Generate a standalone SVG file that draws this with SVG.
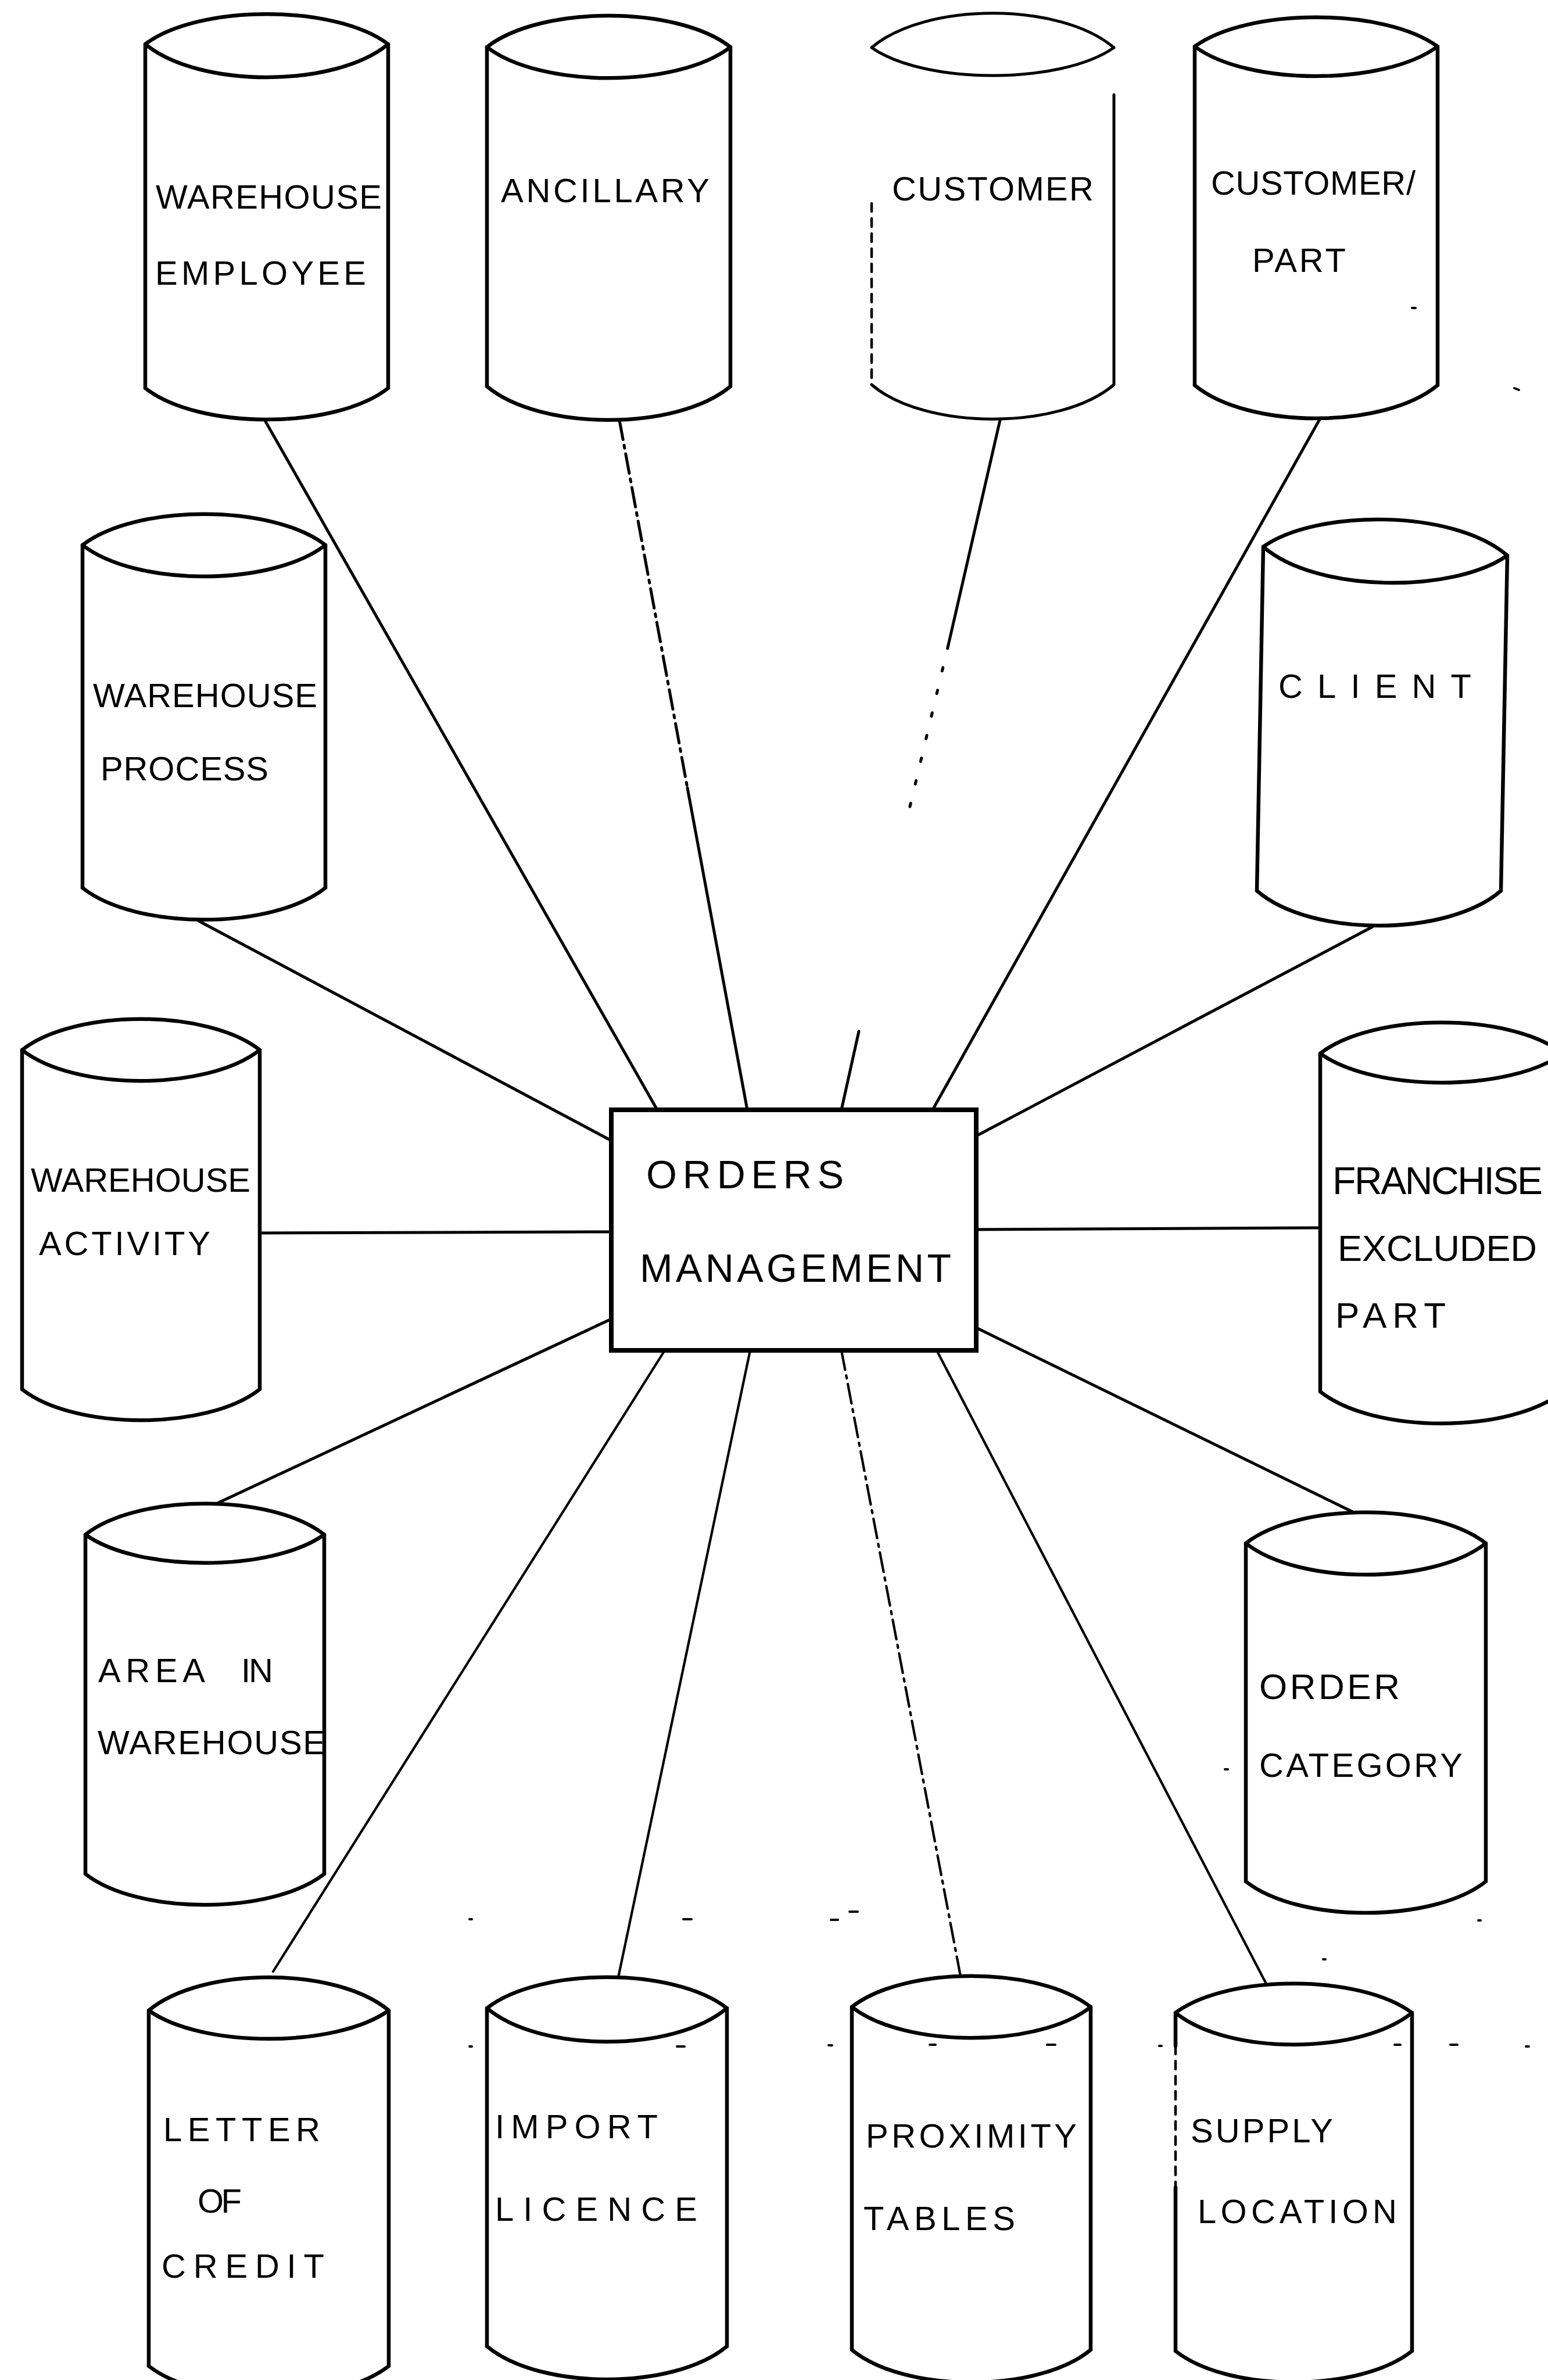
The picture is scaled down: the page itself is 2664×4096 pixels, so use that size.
<svg xmlns="http://www.w3.org/2000/svg" width="2664" height="4096" viewBox="0 0 2664 4096">
  <style>
    .cyl path { fill: none; stroke: #000; stroke-width: 6.5; stroke-linecap: round; stroke-linejoin: round; }
    .box { fill: #fff; stroke: #000; stroke-width: 8; }
    .lbl { font-family: "Liberation Sans", Arial, sans-serif; font-size: 58px; fill: #000; }
    .big { font-size: 68px; }
    #connectors line { stroke: #000; stroke-width: 5; stroke-linecap: round; }
    #connectors .thin { stroke-width: 4.2; }
    #connectors .dash { stroke-dasharray: 34 10 5 10; }
    #connectors .dots { stroke-dasharray: 6 34; }
    .dotted { stroke-dasharray: 14 12; }
    #specks line { stroke: #000; stroke-width: 4; stroke-linecap: round; }
  </style>

  <rect x="0" y="0" width="2664" height="4096" fill="#fff"/>

  <!-- links from the central box out to each data store -->
  <g id="connectors">
    <line x1="455" y1="722" x2="1131" y2="1910"/>
    <line class="dash" x1="1066" y1="723" x2="1183" y2="1356"/>
    <line x1="1183" y1="1356" x2="1286" y2="1910"/>
    <line x1="1721" y1="723" x2="1632" y2="1110"/>
    <line class="dots" x1="1632" y1="1110" x2="1560" y2="1413"/>
    <line x1="1478" y1="1775" x2="1448" y2="1910"/>
    <line x1="2272" y1="720" x2="1605" y2="1910"/>
    <line x1="342" y1="1585" x2="1052" y2="1963"/>
    <line x1="2362" y1="1595" x2="1680" y2="1955"/>
    <line x1="449" y1="2122" x2="1052" y2="2120"/>
    <line x1="1680" y1="2116" x2="2272" y2="2113"/>
    <line x1="372" y1="2588" x2="1052" y2="2270"/>
    <line x1="1680" y1="2285" x2="2330" y2="2603"/>
    <line class="thin" x1="1144" y1="2324" x2="470" y2="3393"/>
    <line class="thin" x1="1291" y1="2324" x2="1064" y2="3403"/>
    <line class="thin dash" x1="1448" y1="2324" x2="1653" y2="3401"/>
    <line class="thin" x1="1612" y1="2324" x2="2179" y2="3414"/>
  </g>

  <g id="n-orders-management">
    <rect class="box" x="1052" y="1910" width="628" height="414"/>
    <text class="lbl big" x="1112" y="2045" textLength="340">ORDERS</text>
    <text class="lbl big" x="1101" y="2206" textLength="536">MANAGEMENT</text>
  </g>

  <g id="n-warehouse-employee" class="cyl">
    <path d="M250 76 C342 7 576 7 668 76 M250 76 C342 152 576 152 668 76 M250 76 V668 M668 76 V668 M250 668 C342 740 576 740 668 668"/>
    <text class="lbl" x="268" y="359" textLength="389">WAREHOUSE</text>
    <text class="lbl" x="267" y="490" textLength="363">EMPLOYEE</text>
  </g>

  <g id="n-ancillary" class="cyl">
    <path d="M838 81 C930 9 1165 9 1257 81 M838 81 C930 152 1165 152 1257 81 M838 81 V665 M1257 81 V665 M838 665 C930 742 1165 742 1257 665"/>
    <text class="lbl" x="862" y="348" textLength="359">ANCILLARY</text>
  </g>

  <g id="n-customer" class="cyl">
    <path style="stroke-width:5" d="M1500 82 C1592 3 1825 3 1917 82 M1500 82 C1592 146 1825 146 1917 82 M1917 163 V662 M1500 662 C1592 741 1825 741 1917 662"/>
    <path class="dotted" style="stroke-width:4.5" d="M1500 350 V662"/>
    <text class="lbl" x="1535" y="345" textLength="347">CUSTOMER</text>
  </g>

  <g id="n-customer-part" class="cyl">
    <path d="M2056 80 C2148 13 2382 13 2474 80 M2056 80 C2148 148 2382 148 2474 80 M2056 80 V663 M2474 80 V663 M2056 663 C2148 739 2382 739 2474 663"/>
    <text class="lbl" x="2084" y="335" textLength="352">CUSTOMER/</text>
    <text class="lbl" x="2155" y="468" textLength="161">PART</text>
  </g>

  <g id="n-warehouse-process" class="cyl">
    <path d="M142 938 C234 867 468 867 560 938 M142 938 C234 1010 468 1010 560 938 M142 938 V1528 M560 938 V1528 M142 1528 C234 1601 468 1601 560 1528"/>
    <text class="lbl" x="160" y="1217" textLength="386">WAREHOUSE</text>
    <text class="lbl" x="173" y="1343" textLength="289">PROCESS</text>
  </g>

  <g id="n-client" class="cyl">
    <path d="M2174 941 C2266 876 2502 876 2594 956 M2174 941 C2266 1021 2502 1021 2594 956 M2174 941 L2163 1533 M2594 956 L2583 1533 M2163 1533 C2255 1613 2491 1613 2583 1533"/>
    <text class="lbl" x="2200" y="1201" textLength="332">CLIENT</text>
  </g>

  <g id="n-warehouse-activity" class="cyl">
    <path d="M38 1807 C128 1736 357 1736 447 1807 M38 1807 C128 1878 357 1878 447 1807 M38 1807 V2391 M447 1807 V2391 M38 2391 C128 2462 357 2462 447 2391"/>
    <text class="lbl" x="53" y="2051" textLength="378">WAREHOUSE</text>
    <text class="lbl" x="67" y="2160" textLength="295">ACTIVITY</text>
  </g>

  <g id="n-franchise-excluded-part" class="cyl">
    <path d="M2272 1813 C2364 1742 2598 1742 2690 1813 M2272 1813 C2364 1880 2598 1880 2690 1813 M2272 1813 V2395 M2690 1813 V2395 M2272 2395 C2364 2468 2598 2468 2690 2395"/>
    <text class="lbl" x="2293" y="2055" textLength="362" style="font-size:66px">FRANCHISE</text>
    <text class="lbl" x="2302" y="2170" textLength="343" style="font-size:63px">EXCLUDED</text>
    <text class="lbl" x="2298" y="2285" textLength="190" style="font-size:62px">PART</text>
  </g>

  <g id="n-area-in-warehouse" class="cyl">
    <path d="M147 2641 C237 2570 468 2570 558 2641 M147 2641 C237 2706 468 2706 558 2641 M147 2641 V3225 M558 2641 V3225 M147 3225 C237 3296 468 3296 558 3225"/>
    <text class="lbl" x="169" y="2895" textLength="184">AREA</text>
    <text class="lbl" x="415" y="2895" textLength="55">IN</text>
    <text class="lbl" x="168" y="3019" textLength="392">WAREHOUSE</text>
  </g>

  <g id="n-order-category" class="cyl">
    <path d="M2144 2656 C2235 2585 2466 2585 2557 2656 M2144 2656 C2235 2728 2466 2728 2557 2656 M2144 2656 V3238 M2557 2656 V3238 M2144 3238 C2235 3310 2466 3310 2557 3238"/>
    <text class="lbl" x="2167" y="2924" textLength="242" style="font-size:62px">ORDER</text>
    <text class="lbl" x="2167" y="3058" textLength="350">CATEGORY</text>
  </g>

  <g id="n-letter-of-credit" class="cyl">
    <path d="M256 3460 C347 3384 578 3384 669 3460 M256 3460 C347 3525 578 3525 669 3460 M256 3460 V4072 M669 3460 V4072 M256 4072 C347 4143 578 4143 669 4072"/>
    <text class="lbl" x="281" y="3685" textLength="270">LETTER</text>
    <text class="lbl" x="340" y="3808" textLength="76">OF</text>
    <text class="lbl" x="278" y="3920" textLength="280">CREDIT</text>
  </g>

  <g id="n-import-licence" class="cyl">
    <path d="M838 3456 C929 3385 1160 3385 1251 3456 M838 3456 C929 3533 1160 3533 1251 3456 M838 3456 V4038 M1251 3456 V4038 M838 4038 C929 4114 1160 4114 1251 4038"/>
    <text class="lbl" x="852" y="3680" textLength="280">IMPORT</text>
    <text class="lbl" x="852" y="3822" textLength="348">LICENCE</text>
  </g>

  <g id="n-proximity-tables" class="cyl">
    <path d="M1466 3454 C1556 3383 1787 3383 1877 3454 M1466 3454 C1556 3525 1787 3525 1877 3454 M1466 3454 V4044 M1877 3454 V4044 M1466 4044 C1556 4119 1787 4119 1877 4044"/>
    <text class="lbl" x="1490" y="3696" textLength="363">PROXIMITY</text>
    <text class="lbl" x="1486" y="3838" textLength="261">TABLES</text>
  </g>

  <g id="n-supply-location" class="cyl">
    <path d="M2023 3464 C2113 3397 2340 3397 2430 3464 M2023 3464 C2113 3537 2340 3537 2430 3464 M2023 3464 V3521 M2023 3765 V4046 M2430 3464 V4046 M2023 4046 C2113 4118 2340 4118 2430 4046"/>
    <path class="dotted" style="stroke-width:4.5" d="M2023 3521 V3765"/>
    <text class="lbl" x="2049" y="3687" textLength="245">SUPPLY</text>
    <text class="lbl" x="2061" y="3826" textLength="343">LOCATION</text>
  </g>

  <!-- loose pen marks on the sheet -->
  <g id="specks">
    <line x1="2430" y1="530" x2="2436" y2="530"/>
    <line x1="2606" y1="668" x2="2614" y2="671"/>
    <line x1="2108" y1="3045" x2="2113" y2="3045"/>
    <line x1="808" y1="3303" x2="812" y2="3303"/>
    <line x1="1176" y1="3303" x2="1190" y2="3303"/>
    <line x1="1430" y1="3304" x2="1442" y2="3304"/>
    <line x1="1462" y1="3290" x2="1476" y2="3290"/>
    <line x1="2277" y1="3372" x2="2281" y2="3372"/>
    <line x1="2544" y1="3305" x2="2548" y2="3305"/>
    <line x1="808" y1="3522" x2="812" y2="3522"/>
    <line x1="1165" y1="3522" x2="1178" y2="3522"/>
    <line x1="1426" y1="3520" x2="1432" y2="3520"/>
    <line x1="1600" y1="3519" x2="1610" y2="3519"/>
    <line x1="1802" y1="3519" x2="1816" y2="3519"/>
    <line x1="1995" y1="3521" x2="1999" y2="3521"/>
    <line x1="2400" y1="3519" x2="2410" y2="3519"/>
    <line x1="2496" y1="3519" x2="2508" y2="3519"/>
    <line x1="2626" y1="3522" x2="2631" y2="3522"/>
  </g>
</svg>
